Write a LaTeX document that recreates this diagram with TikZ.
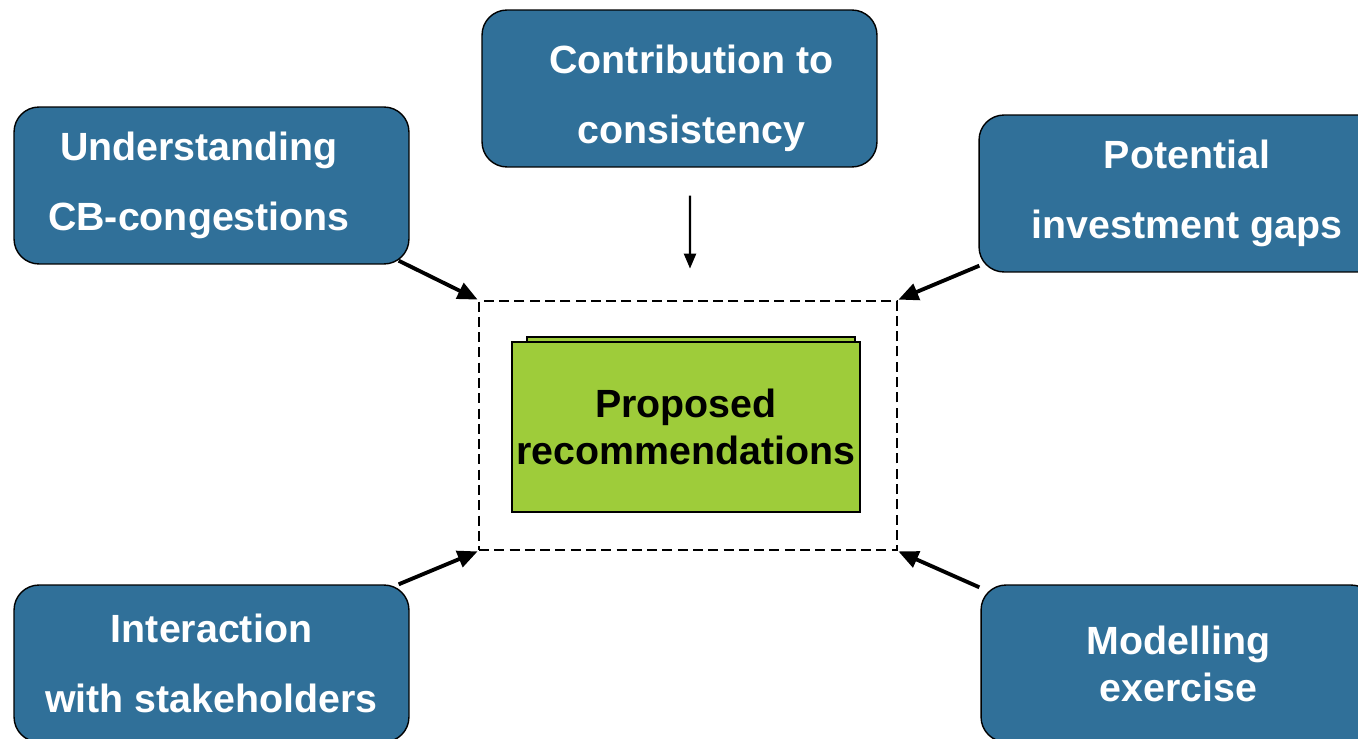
\documentclass[tikz,border=0pt]{standalone}
\usepackage{fontspec}
\setmainfont{Liberation Sans}
\usetikzlibrary{arrows.meta}

\definecolor{boxblue}{RGB}{48,112,153}
\definecolor{recgreen}{RGB}{158,204,58}
\def\fsize{22.4}

\begin{document}
\begin{tikzpicture}[x=0.02cm, y=-0.02cm,
    topic/.style={draw=black, line width=0.8pt, fill=boxblue, rounded corners=0.5cm,
      minimum width=7.9cm, minimum height=3.14cm, text=white, align=center,
      font=\fontsize{\fsize}{39.8}\selectfont\bfseries},
    feed/.style={-{Triangle[length=0.4cm,width=0.34cm]}, line width=2.2pt},
    every node/.style={inner sep=0pt}]
      \useasboundingbox (0,0) rectangle (1358,739);

      % the five inputs
      \node[topic] (contrib) at (679.5, 88.5)
        {\rule{0pt}{0.98cm}\hspace*{0.48cm}Contribution to\\\hspace*{0.48cm}consistency};
      \node[topic] (underst) at (211.5, 185.5)
        {\hspace*{-0.5cm}Understanding\\\hspace*{-0.5cm}CB-congestions};
      \node[topic, minimum width=8.32cm] (potent) at (1187, 193.5) {Potential\\investment gaps};
      \node[topic] (interact) at (211.5, 663.5) {Interaction\\with stakeholders};
      \node[topic, font=\fontsize{\fsize}{26.8}\selectfont\bfseries] (model) at (1178.5, 663.5) {Modelling\\exercise};

      % recommendations in the middle
      \node[draw, dashed, line width=1.6pt, dash pattern=on 5.7pt off 3pt,
        minimum width=8.36cm, minimum height=4.98cm] (frame) at (688, 425.5) {};
      \filldraw[fill=recgreen, line width=1pt] (527,337) rectangle (855,350);
      \node[draw, line width=1pt, fill=recgreen, minimum width=6.96cm, minimum height=3.4cm,
        align=center, font=\fontsize{\fsize}{27.2}\selectfont\bfseries] (recs) at (686, 427)
        {Proposed\\recommendations};

      \draw[feed] ([shift={(-11,-4)}]underst.south east) -- (frame.north west);
      \draw[feed] ([shift={(1,-7)}]potent.south west) -- (frame.north east);
      \draw[feed] ([shift={(-11,0)}]interact.north east) -- (frame.south west);
      \draw[feed] ([shift={(-1,3)}]model.north west) -- (frame.south east);
      \draw[-{Triangle[length=0.3cm,width=0.24cm]}, line width=1.3pt]
        ([shift={(10.5,28)}]contrib.south) -- ([shift={(2,-31)}]frame.north);
    \end{tikzpicture}
\end{document}
